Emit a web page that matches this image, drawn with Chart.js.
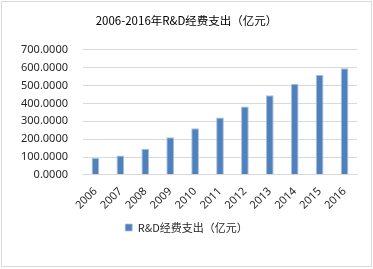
<!DOCTYPE html>
<html>
<head>
<meta charset="utf-8">
<script src="https://cdn.jsdelivr.net/npm/chart.js@4"></script>
<style>
  html,body{margin:0;padding:0;background:#fff;}
  #wrap{position:absolute;left:1px;top:1px;width:369px;height:264px;border:1px solid #d9d9d9;}
  canvas{display:block;}
</style>
</head>
<body>
<div id="wrap"><canvas id="c" width="369" height="264"></canvas></div>
<script>
// R&D 经费支出，按年份（亿元）
const years = ['2006','2007','2008','2009','2010','2011','2012','2013','2014','2015','2016'];
const spending = [94, 109, 146, 210, 261, 321, 383, 445, 508, 559, 597];
const seriesName = 'R&D经费支出（亿元）';
const chartTitle = '2006-2016年R&D经费支出（亿元）';

const txt = '#262626';
const grid = '#d9d9d9';
const latin = "'Noto Sans', 'Noto Sans CJK SC', sans-serif";
const cjk = "'Noto Sans CJK SC', 'Noto Sans', sans-serif";

new Chart(document.getElementById('c'), {
  type: 'bar',
  data: {
    labels: years,
    datasets: [{
      label: seriesName,
      data: spending,
      backgroundColor: '#4f81bd',
      borderColor: '#a9c0df',
      borderWidth: {left:1, right:1, top:1, bottom:0},
      barPercentage: 0.31,
      categoryPercentage: 1
    }]
  },
  options: {
    responsive: false,
    animation: false,
    layout: {padding: {left: 14, right: 14, top: 0, bottom: 23}},
    plugins: {
      title: {display: true, text: chartTitle, color: '#000', font: {family: cjk, size: 11.5, weight: 'normal'}, padding: {top: 12, bottom: 22}},
      legend: {
        position: 'bottom',
        labels: {color: txt, font: {family: cjk, size: 11}, boxWidth: 7, boxHeight: 7, padding: 8}
      },
      tooltip: {enabled: false}
    },
    scales: {
      x: {
        grid: {display: false},
        border: {color: grid},
        ticks: {color: txt, font: {family: latin, size: 11}, maxRotation: 45, minRotation: 45, padding: 2}
      },
      y: {
        min: 0, max: 700,
        afterFit: s => { s.width = 67; },
        grid: {color: grid, drawTicks: false},
        border: {display: false},
        ticks: {stepSize: 100, color: txt, font: {family: latin, size: 11}, padding: 15,
          callback: v => Number(v).toFixed(4)}
      }
    }
  }
});
</script>
</body>
</html>
